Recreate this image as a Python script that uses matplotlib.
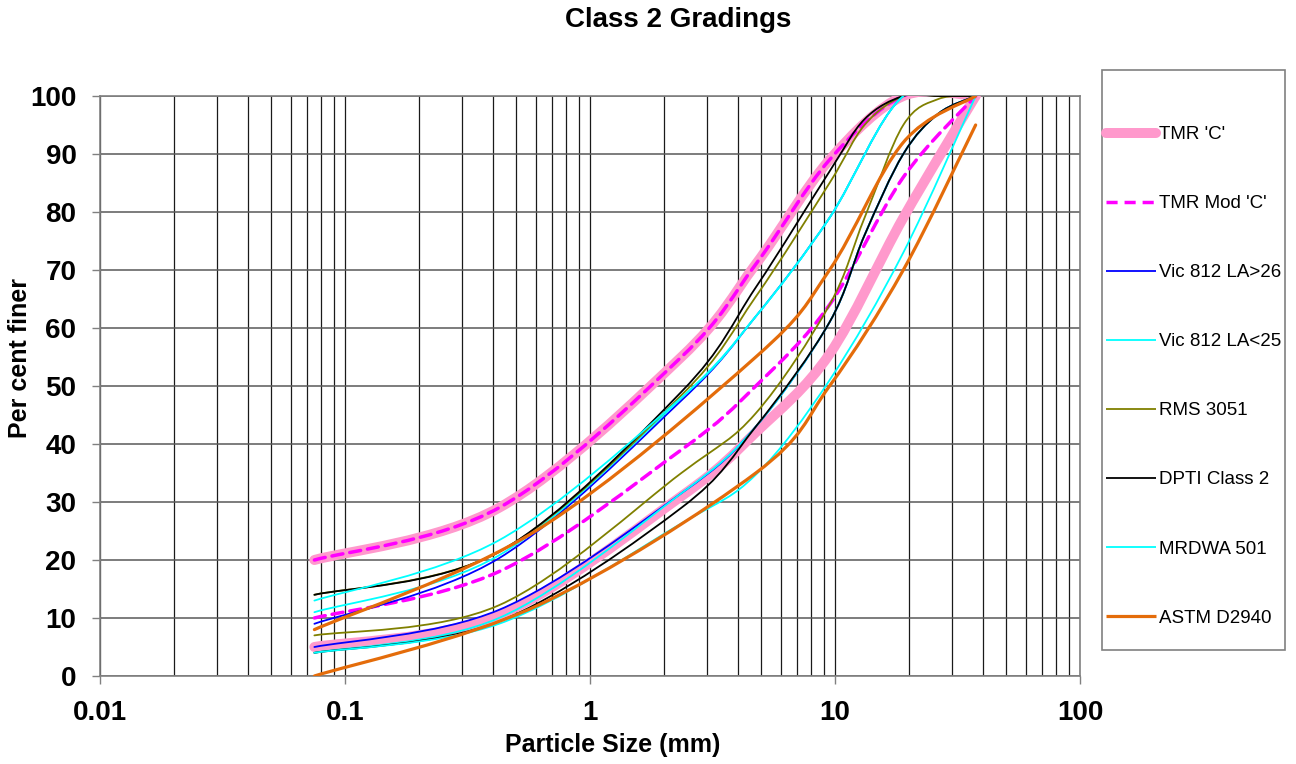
import matplotlib
matplotlib.use('Agg')
import matplotlib.pyplot as plt
from matplotlib.path import Path
from matplotlib.patches import PathPatch, Rectangle
from matplotlib.lines import Line2D
import numpy as np

plt.rcParams['font.family'] = ['Liberation Sans', 'DejaVu Sans']

# sieve sizes (mm)
sieve = [0.075, 0.425, 2.36, 4.75, 9.5, 19, 37.5]
sieve_fine = [0.075, 0.425, 2.36, 4.75, 9.5, 13.2, 19, 26.5, 37.5]
astm_sieve = [0.075, 0.6, 4.75, 9.5, 19, 37.5]

# per cent passing, upper / lower envelope
tmr_c_upper = [20, 29, 55, 71, 89, 100, 100]
tmr_c_lower = [5, 10.5, 31, 42, 55.5, 79, 100]
tmr_mod_upper = [20, 29, 55, 71, 89, 100, 100]
tmr_mod_lower = [10, 18, 39, 50, 64, 86, 100]
vic26_upper = [9, 20.3, 47.5, 62, 79, 100, 100]
vic26_lower = [5, 11.4, 31.5, 43, 61, 76, 90, 97, 100]
vic25_upper = [11, 20.8, 47.9, 62, 79, 100, 100]
vic25_lower = [4, 10, 31.5, 43, 61, 76, 90, 97, 100]
rms_upper = [14, 21.4, 48.4, 65.4, 85, 95, 100, 100, 100]
rms_lower = [7, 12.2, 35, 45.3, 64, 79, 95, 99.5, 100]
dpti_upper = [14, 21.4, 49, 67, 87, 96, 100, 100, 100]
dpti_lower = [4, 9.4, 29, 43, 61, 76, 90, 97, 100]
mrdwa_upper = [13, 23.4, 48, 62, 79, 100, 100]
mrdwa_lower = [4, 9, 26.3, 34.7, 51, 73, 100]
astm_upper = [8, 25, 55, 70, 92, 100]
astm_lower = [0, 12, 35, 50, 70, 95]

labels = ["TMR 'C'", "TMR Mod 'C'", "Vic 812 LA>26", "Vic 812 LA<25",
          "RMS 3051", "DPTI Class 2", "MRDWA 501", "ASTM D2940"]


def smooth_path(xs, ys):
    # Excel-like smoothed line: Catmull-Rom bezier in log-x space
    lx = np.log10(xs)
    y = np.array(ys, dtype=float)
    n = len(lx)
    verts = [(xs[0], y[0])]
    codes = [Path.MOVETO]
    for i in range(n - 1):
        i0 = max(i - 1, 0)
        i3 = min(i + 2, n - 1)
        c1x = lx[i] + (lx[i + 1] - lx[i0]) / 6
        c1y = y[i] + (y[i + 1] - y[i0]) / 6
        c2x = lx[i + 1] - (lx[i3] - lx[i]) / 6
        c2y = y[i + 1] - (y[i3] - y[i]) / 6
        verts += [(10 ** c1x, c1y), (10 ** c2x, c2y), (xs[i + 1], y[i + 1])]
        codes += [Path.CURVE4] * 3
    return Path(verts, codes)


fig = plt.figure(figsize=(12.96, 7.64), dpi=100)
ax = fig.add_axes([100 / 1296, 1 - 676 / 764, 980 / 1296, 580 / 764])
ax.set_xscale('log')
ax.set_xlim(0.01, 100)
ax.set_ylim(0, 100)

pink = '#FF99CC'
magenta = '#FF00FF'
blue = '#0000FF'
cyan = '#00FFFF'
olive = '#808000'
orange = '#E46C0A'

styles = [
    dict(color=pink, lw=7.2, ls='-'),
    dict(color=magenta, lw=2.5, ls=(0, (3.2, 2.0))),
    dict(color=blue, lw=1.3, ls='-'),
    dict(color=cyan, lw=1.3, ls='-'),
    dict(color=olive, lw=1.3, ls='-'),
    dict(color='black', lw=1.3, ls='-'),
    dict(color=cyan, lw=1.3, ls='-'),
    dict(color=orange, lw=2.3, ls='-'),
]

# (sieves for upper, upper, sieves for lower, lower)
series = [
    (sieve, tmr_c_upper, sieve, tmr_c_lower),
    (sieve, tmr_mod_upper, sieve, tmr_mod_lower),
    (sieve, vic26_upper, sieve_fine, vic26_lower),
    (sieve, vic25_upper, sieve_fine, vic25_lower),
    (sieve_fine, rms_upper, sieve_fine, rms_lower),
    (sieve_fine, dpti_upper, sieve_fine, dpti_lower),
    (sieve, mrdwa_upper, sieve, mrdwa_lower),
    (astm_sieve, astm_upper, astm_sieve, astm_lower),
]

for (xu, up, xl, lo), st in zip(series, styles):
    for xs, ys in ((xu, up), (xl, lo)):
        p = PathPatch(smooth_path(xs, ys), fill=False, edgecolor=st['color'],
                      lw=st['lw'], linestyle=st['ls'], capstyle='round',
                      joinstyle='round', zorder=3)
        ax.add_patch(p)

# grid
ax.xaxis.grid(True, which='both', color='#1a1a1a', lw=0.9)
ax.yaxis.grid(True, which='major', color='#595959', lw=1.1)
ax.set_axisbelow(True)
for s in ax.spines.values():
    s.set_color('#808080')
    s.set_linewidth(1.2)

ax.set_xticks([0.01, 0.1, 1, 10, 100])
ax.set_xticklabels(['0.01', '0.1', '1', '10', '100'])
ax.set_yticks(range(0, 101, 10))
ax.tick_params(axis='both', which='major', length=6, width=1, color='#808080',
               labelsize=20, pad=11)
ax.tick_params(axis='x', which='minor', length=0)
for lab in ax.get_xticklabels() + ax.get_yticklabels():
    lab.set_fontweight('bold')

fig.text(678 / 1296, 1 - 20 / 764, 'Class 2 Gradings', ha='center', va='center',
         fontsize=20, fontweight='bold')
fig.text(20 / 1296, 1 - 358 / 764, 'Per cent finer', rotation=90, ha='center',
         va='center', fontsize=18, fontweight='bold')
fig.text(613 / 1296, 1 - 745 / 764, 'Particle Size (mm)', ha='center', va='center',
         fontsize=18, fontweight='bold')

# legend
fig.patches.append(Rectangle((1102 / 1296, 1 - 650 / 764), 183 / 1296, 580 / 764,
                             transform=fig.transFigure, fill=False,
                             edgecolor='#808080', lw=1.2))
handles = []
for st in styles:
    handles.append(Line2D([], [], color=st['color'], lw=st['lw'], ls=st['ls'],
                          solid_capstyle='round' if st['lw'] > 5 else 'butt'))
fig.legend(handles, labels, loc='upper left',
           bbox_to_anchor=(1106 / 1296, 1 - 126 / 764), frameon=False,
           fontsize=13.5, handlelength=2.65, handletextpad=0.2,
           labelspacing=2.77, borderpad=0, borderaxespad=0)

fig.savefig('out.png', dpi=100)
